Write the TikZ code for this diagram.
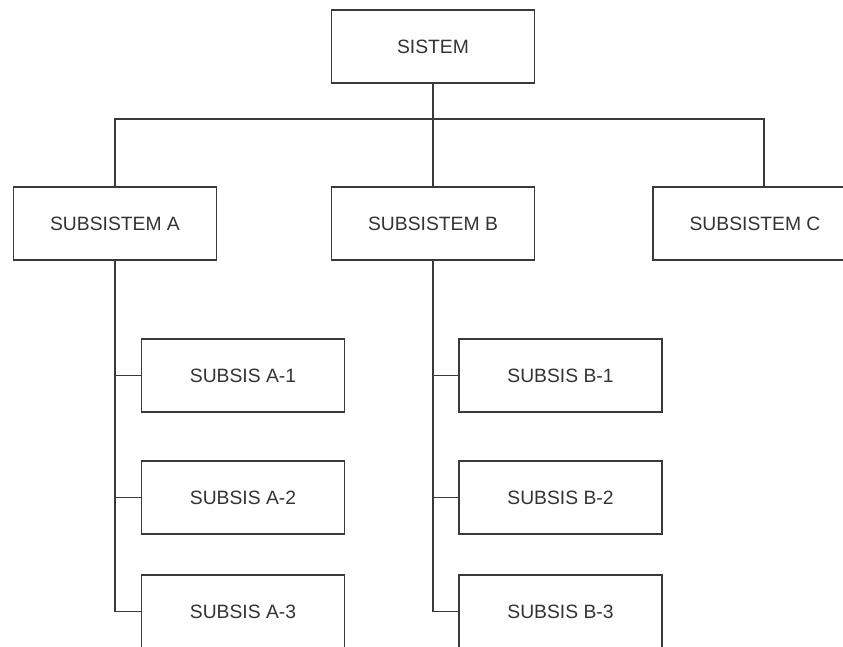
\documentclass[tikz,border=0pt]{standalone}
\usepackage{fontspec}
\setmainfont{Liberation Sans}
\usetikzlibrary{positioning}
\definecolor{linegray}{HTML}{3A3A3A}
\definecolor{textgray}{HTML}{333333}

\begin{document}
\begin{tikzpicture}[x=1pt, y=-1pt,
    box/.style  = {rectangle, draw=linegray, line width=1.6pt,% boxes of the tree
                   text=textgray, minimum width=203pt, minimum height=73pt,
                   outer sep=0pt, font=\fontsize{19.3}{23}\selectfont},
    link/.style = {draw=linegray, line width=1.6pt},
                        ]
\useasboundingbox (0,0) rectangle (843,646);
\clip (0,0) rectangle (843,646);
% top level
\node[box] (sistem) at (433,46.5) {SISTEM};
\node[box] (subA) at (115,223.5) {SUBSISTEM A};
\node[box] (subB) at (433,223.5) {SUBSISTEM B};
\node[box, minimum width=204pt] (subC) at (755,223.5) {SUBSISTEM C};
\coordinate (bar) at (433,119);
\coordinate (cC) at (764,187);
% children of A and B
\foreach \y [count=\i] in {375.5,497.5,611.5}% <-- centres of the rows
  {
    \node[box] (subA\i) at (243,\y) {SUBSIS A-\i};
    \node[box] (subB\i) at (560.5,\y) {SUBSIS B-\i};
  }
\draw[link] (sistem.south) -- (subB.north);
\draw[link] (subA.north) |- (bar) -| (cC);
\draw[link] (subA.south) |- (subA3.west);
\draw[link] (subB.south) |- (subB3.west);
\foreach \i in {1,2}
  {
    \draw[link] (subA\i.west -| subA.south) -- (subA\i.west);
    \draw[link] (subB\i.west -| subB.south) -- (subB\i.west);
  }
\end{tikzpicture}
\end{document}
